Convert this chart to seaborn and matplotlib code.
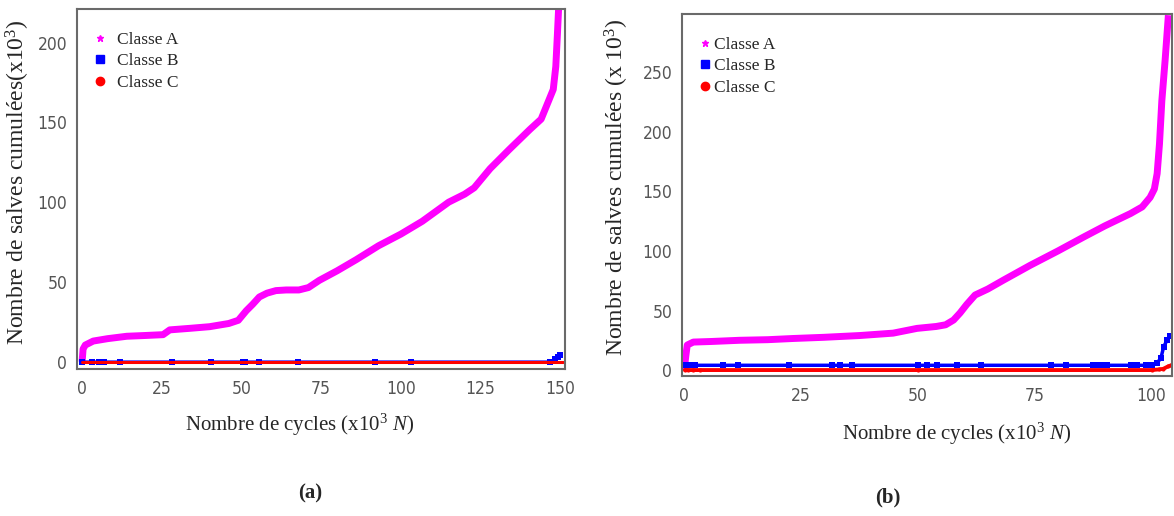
"""
Cumulative AE bursts per class vs. number of cycles, two specimens (a) and (b).
"""

import matplotlib
matplotlib.use("Agg")
import matplotlib.pyplot as plt
from matplotlib.lines import Line2D
from matplotlib import font_manager
import seaborn as sns

# ---- panel (a) data (x in 10^3 cycles, y in 10^3 bursts) ----
a_A_x = [0, 0.3, 1, 3.5, 8, 14, 20, 25.4, 27.5, 34, 40, 46, 49, 51.5, 53.5, 55.6,
         58, 60.8, 64, 68, 71, 74.4, 80, 86, 93, 100, 106.7, 115, 120, 123, 128,
         134, 140.5, 144, 147.8, 148.6, 149.1, 149.5]
a_A_y = [0, 8, 10.5, 13, 14.5, 16, 16.5, 17, 20, 21, 22, 24, 26, 32, 36, 40.6,
         43, 44.6, 45, 45, 46.5, 51, 57, 64, 72.7, 80, 88, 100, 105, 109, 121,
         133, 145.6, 152, 170.6, 185, 205, 222]
a_B_x = [0, 3, 5.4, 6.2, 7, 12, 28.3, 40.5, 50.4, 51, 55.4, 67.7, 91.9, 103.3,
         146.8, 148.4, 149.2, 150]
a_B_y = [0, 0, 0, 0, 0, 0, 0, 0, 0, 0, 0, 0, 0, 0, 0, 1.5, 3, 4.5]
a_C_x = [0, 151]
a_C_y = [0, 0]

# ---- panel (b) data ----
b_A_x = [0.15, 0.5, 0.8, 2.1, 6, 12, 18, 23.4, 30, 37.7, 44.8, 49.9, 54, 56,
         57.7, 59.1, 60.5, 62.3, 65, 68.4, 74.1, 80, 85.5, 90, 95.5, 98, 99.7,
         100.6, 101.2, 101.7, 102.2, 102.9, 103.6]
b_A_y = [0, 12, 21, 23.5, 24, 25, 25.5, 26.5, 27.5, 29, 31, 35, 36.6, 38,
         42, 48, 55, 63, 68, 75.6, 88, 100, 111.7, 121, 131.4, 137, 145,
         152, 165, 190, 226, 260, 298]
b_B_x = [0.4, 1.1, 1.8, 2.5, 8.5, 11.6, 22.6, 31.8, 33.4, 36.1, 50.2, 52, 54.2,
         58.4, 63.5, 78.6, 81.8, 87.6, 88.5, 89.5, 90.5, 95.6, 97, 98.8, 100.2,
         101.2, 102, 102.6, 103.3, 104]
b_B_y = [4] * 25 + [6, 10, 19.6, 25, 29]
b_C_x = [0.3, 1, 2, 3.5, 50, 100, 101.5, 102.5, 103.5, 104.2]
b_C_y = [0, 0, 0, 0, 0, 0, 0.5, 1, 3, 4]

classes = ["Classe A", "Classe B", "Classe C"]
colors = ["#ff00ff", "#0000ff", "#ff0000"]

sns.set_style("white")
plt.rcParams["font.family"] = ["Liberation Serif", "DejaVu Serif"]
plt.rcParams["mathtext.fontset"] = "custom"
plt.rcParams["mathtext.rm"] = "Liberation Serif"
plt.rcParams["mathtext.it"] = "Liberation Serif:italic"

# narrow sans for the tick numbers
names = {f.name for f in font_manager.fontManager.ttflist}
if "Liberation Sans Narrow" in names:
    TICK_PROPS = dict(family="Liberation Sans Narrow", size=14)
else:
    TICK_PROPS = dict(family="DejaVu Sans", stretch="condensed", size=12.5)

fig = plt.figure(figsize=(11.74, 5.16), dpi=100)
ax_a = fig.add_axes([0.0656, 0.2849, 0.4157, 0.6977])
ax_b = fig.add_axes([0.581, 0.2713, 0.4174, 0.7016])


def style_axes(ax, xlim, ylim, xticks, yticks):
    ax.set_xlim(*xlim)
    ax.set_ylim(*ylim)
    ax.set_xticks(xticks)
    ax.set_yticks(yticks)
    for sp in ax.spines.values():
        sp.set_color("#6a6a6a")
        sp.set_linewidth(1.5)
    ax.tick_params(axis="x", direction="in", length=6, width=1.2,
                   color="#444444", pad=8)
    ax.tick_params(axis="y", direction="out", length=5, width=1.2,
                   color="#444444", pad=2)
    for lab in ax.get_xticklabels() + ax.get_yticklabels():
        lab.set_fontproperties(font_manager.FontProperties(**TICK_PROPS))
        lab.set_color("#555555")
    ax.set_xlabel("")
    ax.set_ylabel("")


def add_legend(ax, textpad):
    handles = [
        Line2D([], [], ls="none", marker="*", ms=5, color=colors[0]),
        Line2D([], [], ls="none", marker="s", ms=6, color=colors[1]),
        Line2D([], [], ls="none", marker="o", ms=6, color=colors[2]),
    ]
    ax.legend(handles, classes, loc="upper left", frameon=False, fontsize=12.5,
              handlelength=0.8, handletextpad=textpad, labelspacing=0.3,
              borderaxespad=0.5, bbox_to_anchor=(0.0, 0.98))


# ---- panel (a) ----
sns.lineplot(x=a_A_x, y=a_A_y, ax=ax_a, color=colors[0], linewidth=5,
             solid_capstyle="butt")
sns.lineplot(x=a_B_x, y=a_B_y, ax=ax_a, color=colors[1], linewidth=2,
             marker="s", markersize=4, markeredgewidth=0)
sns.lineplot(x=a_C_x, y=a_C_y, ax=ax_a, color=colors[2], linewidth=2.2)
style_axes(ax_a, (-1.6, 151.5), (-4.5, 221), range(0, 151, 25),
           range(0, 201, 50))
add_legend(ax_a, 0.6)

# ---- panel (b) ----
sns.lineplot(x=b_A_x, y=b_A_y, ax=ax_b, color=colors[0], linewidth=5,
             solid_capstyle="butt")
sns.lineplot(x=b_C_x, y=b_C_y, ax=ax_b, color=colors[2], linewidth=2.8,
             marker="o", markersize=3, markeredgewidth=0)
sns.lineplot(x=b_B_x, y=b_B_y, ax=ax_b, color=colors[1], linewidth=2.5,
             marker="s", markersize=4.5, markeredgewidth=0)
style_axes(ax_b, (-0.3, 104.4), (-5, 299), range(0, 101, 25),
           range(0, 251, 50))
add_legend(ax_b, 0.15)

# ---- axis titles and panel letters ----
fig.text(18 / 1174, 1 - 182 / 516,
         r"Nombre de salves cumulées(x10$^3$)", rotation=90,
         ha="center", va="center", fontsize=17)
fig.text(300 / 1174, 1 - 425 / 516,
         r"Nombre de cycles (x10$^3$ $N$)", ha="center", va="center",
         fontsize=15)
fig.text(617 / 1174, 1 - 187 / 516,
         r"Nombre de salves cumulées (x 10$^3$)", rotation=90,
         ha="center", va="center", fontsize=17)
fig.text(957 / 1174, 1 - 434 / 516,
         r"Nombre de cycles (x10$^3$ $N$)", ha="center", va="center",
         fontsize=15)
fig.text(310 / 1174, 1 - 493 / 516, "(a)", ha="center", va="center",
         fontsize=15, fontweight="bold")
fig.text(888 / 1174, 1 - 497 / 516, "(b)", ha="center", va="center",
         fontsize=15, fontweight="bold")

fig.savefig("out.png", dpi=100)
plt.close(fig)
